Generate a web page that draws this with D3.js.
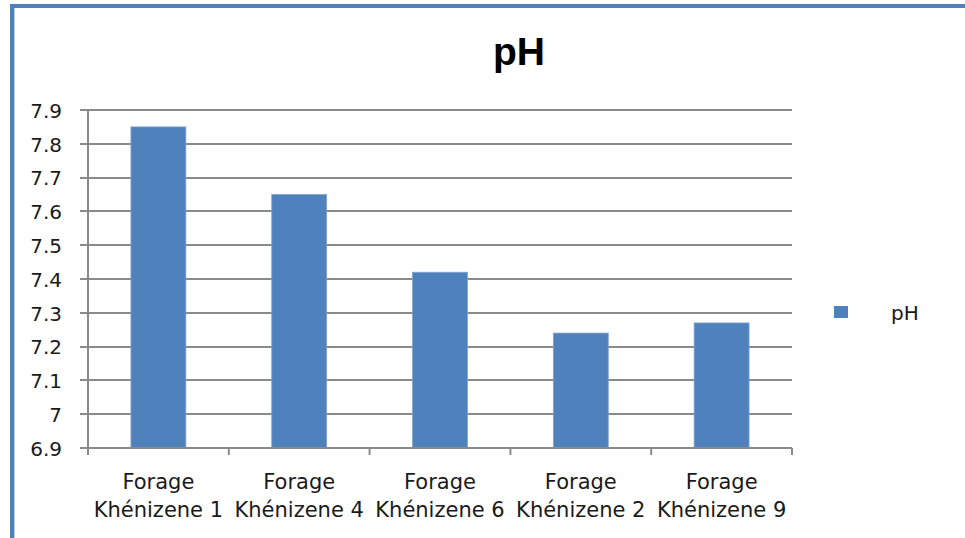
<!DOCTYPE html>
<html>
<head>
<meta charset="utf-8">
<script src="https://cdn.jsdelivr.net/npm/d3@7"></script>
<style>
  html, body { margin: 0; padding: 0; background: #fff; }
  svg { display: block; }
</style>
</head>
<body>
<div id="chart"></div>
<script>
// pH measured at each borehole
const categories = [
  ["Forage", "Khénizene 1"],
  ["Forage", "Khénizene 4"],
  ["Forage", "Khénizene 6"],
  ["Forage", "Khénizene 2"],
  ["Forage", "Khénizene 9"]
];
const phValues = [7.85, 7.65, 7.42, 7.24, 7.27];
const yTicks = [6.9, 7.0, 7.1, 7.2, 7.3, 7.4, 7.5, 7.6, 7.7, 7.8, 7.9];
const yTickLabels = ["6.9", "7", "7.1", "7.2", "7.3", "7.4", "7.5", "7.6", "7.7", "7.8", "7.9"];
const seriesName = "pH";
const chartTitle = "pH";

const W = 965, H = 538;
const barColor = "#4f81bd";
const gridColor = "#8a8a8a";
const textFont = "'DejaVu Sans', sans-serif";

const svg = d3.select("#chart").append("svg")
  .attr("width", W).attr("height", H);

// frame accents along the top and left edges
svg.append("rect").attr("x", 10).attr("y", 4).attr("width", W - 10).attr("height", 4).attr("fill", barColor);
svg.append("rect").attr("x", 10).attr("y", 4).attr("width", 4).attr("height", H - 4).attr("fill", barColor);
svg.append("rect").attr("x", 14).attr("y", 8).attr("width", 1).attr("height", H - 8).attr("fill", "#b9cde5");

const plot = { left: 88, right: 792, top: 110, bottom: 448 };

const x = d3.scaleBand()
  .domain(categories.map((d, i) => i))
  .range([plot.left, plot.right])
  .paddingInner(0.61)
  .paddingOuter(0.305);

const xCat = d3.scaleBand()
  .domain(categories.map((d, i) => i))
  .range([plot.left, plot.right])
  .padding(0);

const y = d3.scaleLinear()
  .domain([6.9, 7.9])
  .range([plot.bottom, plot.top]);

// horizontal gridlines
svg.append("g")
  .selectAll("line")
  .data(yTicks)
  .join("line")
  .attr("x1", plot.left - 8)
  .attr("x2", plot.right)
  .attr("y1", d => Math.round(y(d)))
  .attr("y2", d => Math.round(y(d)))
  .attr("stroke", gridColor)
  .attr("stroke-width", 2);

// y axis
const yAxis = d3.axisLeft(y)
  .tickValues(yTicks)
  .tickFormat((d, i) => yTickLabels[i])
  .tickSize(0)
  .tickPadding(26);
const yg = svg.append("g").attr("transform", `translate(${plot.left},0)`).call(yAxis);
yg.select(".domain").remove();
yg.selectAll("text")
  .attr("font-family", textFont)
  .attr("font-size", 20)
  .attr("fill", "#1a1a1a")
  .attr("dy", "0.36em");
svg.append("line")
  .attr("x1", plot.left).attr("x2", plot.left)
  .attr("y1", plot.top).attr("y2", plot.bottom)
  .attr("stroke", gridColor).attr("stroke-width", 2);

// bars
svg.append("g")
  .selectAll("rect")
  .data(phValues)
  .join("rect")
  .attr("x", (d, i) => x(i))
  .attr("width", x.bandwidth())
  .attr("y", d => y(d))
  .attr("height", d => y(6.9) - y(d))
  .attr("fill", barColor)
  .attr("stroke", "#7fa3cf")
  .attr("stroke-width", 0.8);

// x axis line and category boundary ticks
svg.append("line")
  .attr("x1", plot.left).attr("x2", plot.right)
  .attr("y1", plot.bottom).attr("y2", plot.bottom)
  .attr("stroke", gridColor).attr("stroke-width", 2);
const boundaries = categories.map((d, i) => xCat(i)).concat([plot.right]);
svg.append("g")
  .selectAll("line")
  .data(boundaries)
  .join("line")
  .attr("x1", d => d).attr("x2", d => d)
  .attr("y1", plot.bottom).attr("y2", plot.bottom + 7)
  .attr("stroke", gridColor).attr("stroke-width", 2);

// category labels on two lines
const labels = svg.append("g")
  .selectAll("text")
  .data(categories)
  .join("text")
  .attr("x", (d, i) => xCat(i) + xCat.bandwidth() / 2)
  .attr("y", 489)
  .attr("text-anchor", "middle")
  .attr("font-family", textFont)
  .attr("font-size", 21)
  .attr("fill", "#1a1a1a");
labels.selectAll("tspan")
  .data(d => d)
  .join("tspan")
  .attr("x", function () { return d3.select(this.parentNode).attr("x"); })
  .attr("dy", (d, i) => i === 0 ? 0 : 28)
  .text(d => d);

// title
svg.append("text")
  .attr("x", 519).attr("y", 65)
  .attr("text-anchor", "middle")
  .attr("font-family", "'Liberation Sans', Arial, sans-serif")
  .attr("font-weight", "bold")
  .attr("font-size", 39)
  .attr("fill", "#000")
  .text(chartTitle);

// legend
const legend = svg.append("g");
legend.append("rect")
  .attr("x", 834).attr("y", 306)
  .attr("width", 14).attr("height", 12)
  .attr("fill", barColor);
legend.append("text")
  .attr("x", 891).attr("y", 320)
  .attr("font-family", textFont)
  .attr("font-size", 20)
  .attr("fill", "#1a1a1a")
  .text(seriesName);
</script>
</body>
</html>
